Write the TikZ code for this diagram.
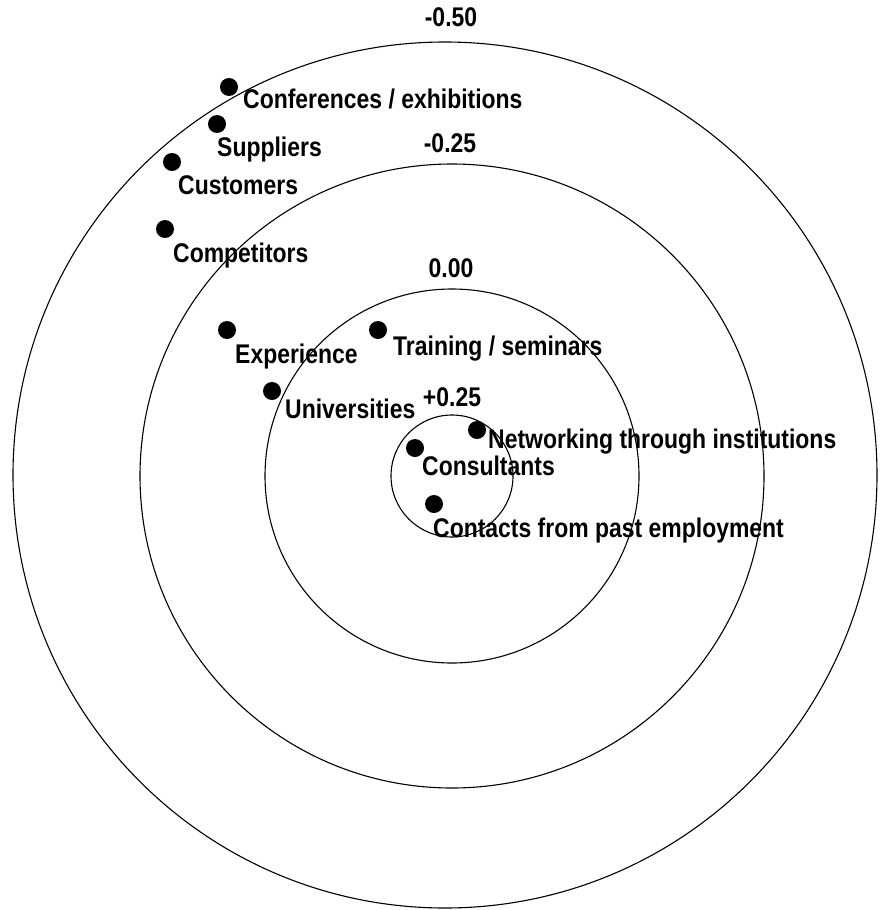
\documentclass[tikz,border=0pt]{standalone}
\usepackage{fontspec}
\newfontfamily\lblfont{Liberation Sans}[FakeStretch=0.85]
\begin{document}
\begin{tikzpicture}[x=1pt,y=-1pt,
  ring/.style={draw=black,line width=1.1pt},
  dot/.style={circle,fill=black,draw=none,inner sep=0pt,minimum size=18pt},
  lbl/.style={inner sep=0pt,anchor=base west,font=\lblfont\bfseries\fontsize{27}{29}\selectfont},
  lvl/.style={inner sep=0pt,anchor=base,font=\lblfont\bfseries\fontsize{27}{29}\selectfont}]
  \useasboundingbox (0,0) rectangle (879,910);
  % concentric rings
  \coordinate (ctr) at (452,476);
  \draw[ring] (445,475) ellipse [x radius=432pt, y radius=433pt];
  \draw[ring] (ctr) circle [radius=312pt];
  \draw[ring] (ctr) circle [radius=187pt];
  \draw[ring] (ctr) circle [radius=61pt];
  % ring values
  \node[lvl] (vA) at (451,27) {-0.50};
  \node[lvl] (vB) at (450,152) {-0.25};
  \node[lvl] (vC) at (451,277) {0.00};
  \node[lvl] (vD) at (452,406) {+0.25};
  % sources
  \node[dot] (conf) at (229,87) {};
  \node[lbl] (confL) at (243,108) {Conferences / exhibitions};
  \node[dot] (supp) at (217,124) {};
  \node[lbl] (suppL) at (217,156) {Suppliers};
  \node[dot] (cust) at (172,162) {};
  \node[lbl] (custL) at (178,194) {Customers};
  \node[dot] (comp) at (165,229) {};
  \node[lbl] (compL) at (173,262) {Competitors};
  \node[dot] (expe) at (227,330) {};
  \node[lbl] (expeL) at (235,363) {Experience};
  \node[dot] (trai) at (378,330) {};
  \node[lbl] (traiL) at (393,355) {Training / seminars};
  \node[dot] (univ) at (272,391) {};
  \node[lbl] (univL) at (285,418) {Universities};
  \node[dot] (netw) at (477,430) {};
  \node[lbl] (netwL) at (488,448) {Networking through institutions};
  \node[dot] (cons) at (415,448) {};
  \node[lbl] (consL) at (422,475) {Consultants};
  \node[dot] (cont) at (434,504) {};
  \node[lbl] (contL) at (433,537) {Contacts from past employment};
\end{tikzpicture}
\end{document}
